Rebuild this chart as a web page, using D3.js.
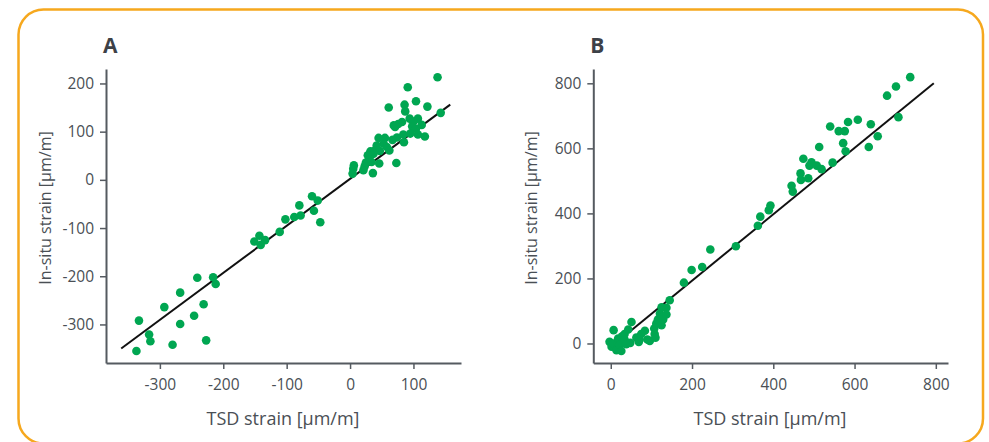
<!DOCTYPE html>
<html><head><meta charset="utf-8">
<script src="https://cdn.jsdelivr.net/npm/d3@7"></script>
<style>body{margin:0;background:#fff}svg{display:block}</style>
</head><body><svg id="c" width="989" height="442"></svg>
<script>
// Panel A data (TSD strain vs in-situ strain, µm/m)
const tsdA = [-337,-333,-317,-315,-293,-280,-268,-268,-246,-241,-231,-227,-216,-212,-151,-143,-141,-134,-111,-102,-88,-80,-78,-60,-51,-57,-47,
  138,91,104,122,61,86,87,143,94,107,100,113,82,76,69,71,98,104,107,118,95,84,85,74,67,55,45,53,58,62,42,39,32,47,37,28,30,25,34,46,23,21,36,73,6,5,4];
const insituA = [-355,-292,-321,-335,-264,-342,-234,-299,-282,-203,-258,-333,-202,-216,-128,-116,-135,-125,-108,-82,-77,-53,-74,-34,-43,-64,-88,
  213,192,163,152,150,156,142,139,127,127,121,114,120,116,113,110,111,106,94,90,96,94,78,88,83,87,87,75,68,61,71,61,59,60,54,51,42,36,37,34,28,20,14,35,30,23,13];
const fitA = [[-361,-350],[158,156]];
const xTicksA = [-300,-200,-100,0,100];
const yTicksA = [-300,-200,-100,0,100,200];

// Panel B data
const tsdB = [-3,2,6,7,14,16,18,22,26,28,34,34,38,43,48,51,63,69,71,75,84,90,96,107,108,110,112,116,121,125,129,125,137,137,145,180,
  199,225,245,308,362,368,389,393,
  448,445,467,468,486,474,494,489,507,519,546,513,540,561,576,572,578,584,608,640,657,635,680,702,737,708];
const insituB = [5,-10,0,41,-21,5,15,-5,-23,22,29,12,-2,43,2,66,18,5,12,29,39,12,8,46,29,18,61,74,92,56,74,111,110,89,133,187,
  226,235,289,299,362,390,410,424,
  467,485,523,503,508,568,557,547,547,536,556,604,667,653,653,616,591,681,688,674,637,604,762,790,819,696];
const fitB = [[44,34],[795,800]];
const xTicksB = [0,200,400,600,800];
const yTicksB = [0,200,400,600,800];

const panels = [
  {label:"A", xs:tsdA, ys:insituA, fit:fitA, xt:xTicksA, yt:yTicksA,
   xd:[-385,175], yd:[-380,230], xr:[106,461], yr:[363,69], xTitle:283, yTitleX:51},
  {label:"B", xs:tsdB, ys:insituB, fit:fitB, xt:xTicksB, yt:yTicksB,
   xd:[-43,830], yd:[-60,844], xr:[593.3,948], yr:[363,69], xTitle:770, yTitleX:537}
];

const svg = d3.select("#c");
svg.append("rect").attr("x",18.5).attr("y",9.5).attr("width",964.5).attr("height",434)
  .attr("rx",25).attr("fill","none").attr("stroke","#F6A81E").attr("stroke-width",2.5);

const axisColor = "#555a60", textColor = "#4a4f55", font = "'Open Sans', sans-serif";

panels.forEach(p => {
  const x = d3.scaleLinear().domain(p.xd).range(p.xr);
  const y = d3.scaleLinear().domain(p.yd).range(p.yr);
  const g = svg.append("g");

  const gx = g.append("g").attr("transform",`translate(0,${p.yr[0]})`)
    .call(d3.axisBottom(x).tickValues(p.xt).tickSize(6).tickSizeOuter(0).tickPadding(10).tickFormat(d=>String(d)));
  const gy = g.append("g").attr("transform",`translate(${p.xr[0]},0)`)
    .call(d3.axisLeft(y).tickValues(p.yt).tickSize(6).tickSizeOuter(0).tickPadding(6).tickFormat(d=>String(d)));
  [gx,gy].forEach(a=>{
    a.select(".domain").attr("stroke",axisColor).attr("stroke-width",2);
    a.selectAll(".tick line").attr("stroke",axisColor).attr("stroke-width",1.5);
    a.selectAll(".tick text").attr("fill",textColor).attr("font-family",font).attr("font-size",15.5);
  });

  g.append("line")
    .attr("x1",x(p.fit[0][0])).attr("y1",y(p.fit[0][1]))
    .attr("x2",x(p.fit[1][0])).attr("y2",y(p.fit[1][1]))
    .attr("stroke","#111").attr("stroke-width",2);

  g.selectAll("circle.pt").data(p.xs.map((v,i)=>[v,p.ys[i]])).join("circle")
    .attr("class","pt").attr("cx",d=>x(d[0])).attr("cy",d=>y(d[1])).attr("r",4.3)
    .attr("fill","#00A651");

  g.append("text").attr("x",p.xTitle).attr("y",425).attr("text-anchor","middle")
    .attr("fill",textColor).attr("font-family",font).attr("font-size",18).text("TSD strain [µm/m]");
  g.append("text").attr("transform",`translate(${p.yTitleX},208) rotate(-90)`).attr("text-anchor","middle")
    .attr("fill",textColor).attr("font-family",font).attr("font-size",16).text("In-situ strain [µm/m]");
  g.append("text").attr("x",p.xr[0]-3).attr("y",53).attr("fill","#3d4147")
    .attr("font-family",font).attr("font-weight","bold").attr("font-size",21).text(p.label);
});
</script></body></html>
